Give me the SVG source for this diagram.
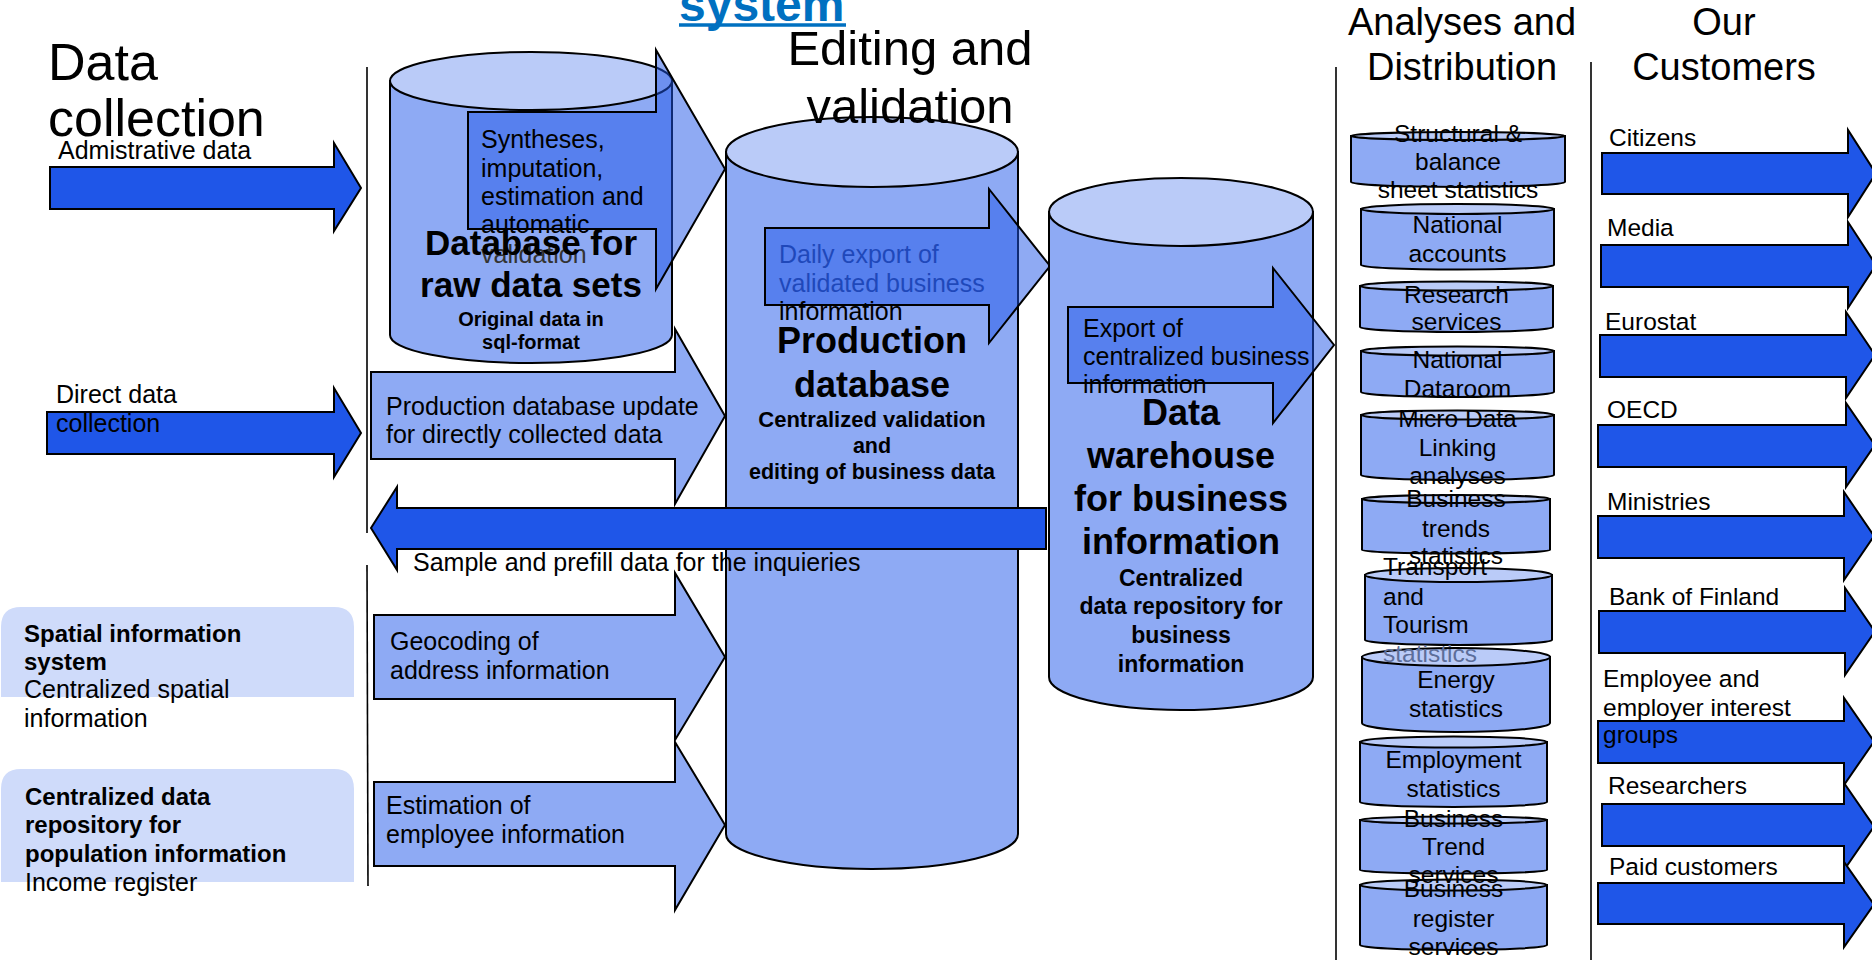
<svg xmlns="http://www.w3.org/2000/svg" width="1872" height="960" viewBox="0 0 1872 960">
<style>
.dk{fill:#1F56E8;stroke:#000;stroke-width:2}
.md{fill:#8EAAF4;stroke:#000;stroke-width:2}
.tr{fill:#1F56E8;fill-opacity:.5;stroke:#000;stroke-width:2}
.cb{fill:#8EAAF4;stroke:#000;stroke-width:2}
.ct{fill:#BACBF8;stroke:#000;stroke-width:2}
.box{fill:#CFDBFA}
.vl{stroke:#000;stroke-width:1.6;fill:none}
.t{font-family:"Liberation Sans",Arial,sans-serif;font-size:25px;fill:#000}
.r{font-size:24.5px}
.b{font-weight:bold}
.bx{font-size:24px}
.c{text-anchor:middle}
.h{font-size:49px}
.h2{font-size:38px}
.big{font-size:35px;font-weight:bold}
.sub{font-size:21.5px;font-weight:bold}
</style>
<rect width="1872" height="960" fill="#fff"/>

<g id="dividers">
<line class="vl" x1="367" y1="67" x2="367" y2="533"/>
<line class="vl" x1="367" y1="565" x2="368" y2="886"/>
<line class="vl" x1="1336" y1="67" x2="1336" y2="960"/>
<line class="vl" x1="1591" y1="62" x2="1591" y2="960"/>
</g>

<g id="title">
<text class="t b" x="679" y="21" style="font-size:48px;fill:#0070C0">system</text>
<line x1="679" y1="25" x2="846" y2="25" stroke="#0070C0" stroke-width="3.5"/>
</g>

<g id="spatial-box">
<path class="box" d="M1,697 V627 Q1,607 21,607 H334 Q354,607 354,627 V697 Z"/>
<text class="t b bx" x="24" y="642">Spatial information</text>
<text class="t b bx" x="24" y="670">system</text>
<text class="t" x="24" y="698">Centralized spatial</text>
<text class="t" x="24" y="727">information</text>
</g>

<g id="population-box">
<path class="box" d="M1,882 V789 Q1,769 21,769 H334 Q354,769 354,789 V882 Z"/>
<text class="t b bx" x="25" y="805">Centralized data</text>
<text class="t b bx" x="25" y="833">repository for</text>
<text class="t b bx" x="25" y="862">population information</text>
<text class="t" x="25" y="891">Income register</text>
</g>

<g id="connectors">
<path class="dk" d="M50,167 H334 V143 L361,188 L334,231 V209 H50 Z"/>
<path class="dk" d="M47,412 H334 V388 L361,433 L334,477 V454 H47 Z"/>
<path class="md" d="M371,372 H675 V329 L725,416 L675,504 V459 H371 Z"/>
<path class="md" d="M374,615 H675 V573 L725,657 L675,740 V699 H374 Z"/>
<path class="md" d="M374,782 H675 V742 L725,825 L675,910 V866 H374 Z"/>
<path class="dk" d="M1602,153 H1848 V130 L1876,173.5 L1848,217 V194 H1602 Z"/>
<path class="dk" d="M1601,245 H1848 V222 L1876,265 L1848,308 V287 H1601 Z"/>
<path class="dk" d="M1600,335 H1846 V312 L1875,355 L1846,398 V377 H1600 Z"/>
<path class="dk" d="M1598,425 H1846 V403 L1875,445 L1846,487 V467 H1598 Z"/>
<path class="dk" d="M1598,516 H1844 V492 L1874,536 L1844,580 V558 H1598 Z"/>
<path class="dk" d="M1599,611 H1845 V588 L1875,631.5 L1845,675 V653 H1599 Z"/>
<path class="dk" d="M1598,721 H1844 V698 L1874,741.5 L1844,785 V763 H1598 Z"/>
<path class="dk" d="M1602,804 H1844 V783 L1874,826.5 L1844,870 V846 H1602 Z"/>
<path class="dk" d="M1598,883 H1844 V862 L1874,904.5 L1844,947 V924 H1598 Z"/>
</g>

<g id="arrow-labels">
<text class="t" x="58" y="159">Admistrative data</text>
<text class="t" x="56" y="403">Direct data</text>
<text class="t" x="56" y="432">collection</text>
<text class="t" x="386" y="415">Production database update</text>
<text class="t" x="386" y="443">for directly collected data</text>
<text class="t" x="390" y="650">Geocoding of</text>
<text class="t" x="390" y="679">address information</text>
<text class="t" x="386" y="814">Estimation of</text>
<text class="t" x="386" y="843">employee information</text>
</g>

<g id="raw-database">
<path class="cb" d="M390,81 V335 A141,28 0 0 0 672,335 V81 Z"/>
<ellipse class="ct" cx="531" cy="81" rx="141" ry="29"/>
<path class="tr" d="M468,112 H656 V50 L725,169 L656,289 V229 H468 Z"/>
<text class="t" x="481" y="148">Syntheses,</text>
<text class="t" x="481" y="177">imputation,</text>
<text class="t" x="481" y="205">estimation and</text>
<text class="t" x="481" y="233">automatic</text>
<text class="t" x="481" y="263" style="fill:#333">validation</text>
<text class="t c big" x="531" y="255">Database for</text>
<text class="t c big" x="531" y="297">raw data sets</text>
<text class="t c b" x="531" y="326" style="font-size:20px">Original data in</text>
<text class="t c b" x="531" y="349" style="font-size:20px">sql-format</text>
</g>

<g id="production-database">
<path class="cb" d="M726,152 V834 A146,35 0 0 0 1018,834 V152 Z"/>
<ellipse class="ct" cx="872" cy="152" rx="146" ry="35"/>
<text class="t" x="779" y="263" style="fill:#1F3A8C">Daily export of</text>
<text class="t" x="779" y="292" style="fill:#1F3A8C">validated business</text>
<path class="tr" d="M765,228 H989 V189 L1050,266 L989,343 V305 H765 Z"/>
<text class="t" x="779" y="320">information</text>
<text class="t c big" x="872" y="353" style="font-size:36px">Production</text>
<text class="t c big" x="872" y="397" style="font-size:36px">database</text>
<text class="t c sub" x="872" y="427" style="font-size:22px">Centralized validation</text>
<text class="t c sub" x="872" y="453">and</text>
<text class="t c sub" x="872" y="479">editing of business data</text>
</g>

<g id="sample-arrow">
<path class="dk" d="M1046,508 H397 V487 L371,528 L397,570 V549 H1046 Z"/>
<text class="t" x="413" y="571">Sample and prefill data for the inquieries</text>
</g>

<g id="data-warehouse">
<path class="cb" d="M1049,212 V677 A132,33 0 0 0 1313,677 V212 Z"/>
<ellipse class="ct" cx="1181" cy="212" rx="132" ry="34"/>
<path class="tr" d="M1068,307 H1273 V268 L1334,345 L1273,423 V383 H1068 Z"/>
<text class="t" x="1083" y="337">Export of</text>
<text class="t" x="1083" y="365">centralized business</text>
<text class="t" x="1083" y="393">information</text>
<text class="t c big" x="1181" y="425" style="font-size:36px">Data</text>
<text class="t c big" x="1181" y="468" style="font-size:36px">warehouse</text>
<text class="t c big" x="1181" y="511" style="font-size:36px">for business</text>
<text class="t c big" x="1181" y="554" style="font-size:36px">information</text>
<text class="t c sub" x="1181" y="586" style="font-size:23px">Centralized</text>
<text class="t c sub" x="1181" y="614" style="font-size:23px">data repository for</text>
<text class="t c sub" x="1181" y="643" style="font-size:23px">business</text>
<text class="t c sub" x="1181" y="672" style="font-size:23px">information</text>
</g>

<g id="structural">
<path class="cb" d="M1351,136 V182 A107,5 0 0 0 1565,182 V136 Z"/>
<ellipse class="ct" cx="1458" cy="136" rx="107" ry="4"/>
</g>
<g id="national-accounts">
<path class="cb" d="M1361,209 V265 A96.5,4.5 0 0 0 1554,265 V209 Z"/>
<ellipse class="ct" cx="1457.5" cy="209" rx="96.5" ry="5"/>
</g>
<g id="research">
<path class="cb" d="M1360,286 V327 A96.5,5 0 0 0 1553,327 V286 Z"/>
<ellipse class="ct" cx="1456.5" cy="286" rx="96.5" ry="4.5"/>
</g>
<g id="dataroom">
<path class="cb" d="M1361,351 V392 A96.5,5 0 0 0 1554,392 V351 Z"/>
<ellipse class="ct" cx="1457.5" cy="351" rx="96.5" ry="4.5"/>
</g>
<g id="microdata">
<path class="cb" d="M1361,415 V475 A96.5,5 0 0 0 1554,475 V415 Z"/>
<ellipse class="ct" cx="1457.5" cy="415" rx="96.5" ry="4.5"/>
</g>
<g id="business-trends">
<path class="cb" d="M1362,499 V550 A94,3.5 0 0 0 1550,550 V499 Z"/>
<ellipse class="ct" cx="1456" cy="499" rx="94" ry="4"/>
</g>
<g id="transport">
<path class="cb" d="M1365,575 V640 A93.5,5 0 0 0 1552,640 V575 Z"/>
<ellipse class="ct" cx="1458.5" cy="575" rx="93.5" ry="7"/>
</g>
<g id="energy">
<path class="cb" d="M1362,657 V723 A94,9 0 0 0 1550,723 V657 Z"/>
<ellipse class="ct" cx="1456" cy="657" rx="94" ry="9"/>
</g>
<g id="employment">
<path class="cb" d="M1360,742 V802 A93.5,5 0 0 0 1547,802 V742 Z"/>
<ellipse class="ct" cx="1453.5" cy="742" rx="93.5" ry="5.5"/>
</g>
<g id="business-trend-services">
<path class="cb" d="M1360,820 V870 A93.5,3.5 0 0 0 1547,870 V820 Z"/>
<ellipse class="ct" cx="1453.5" cy="820" rx="93.5" ry="3.5"/>
</g>
<g id="business-register">
<path class="cb" d="M1360,885 V945 A93.5,5 0 0 0 1547,945 V885 Z"/>
<ellipse class="ct" cx="1453.5" cy="885" rx="93.5" ry="5.5"/>
</g>

<g id="distribution-labels">
<text class="t c r" x="1458" y="142">Structural &amp;</text>
<text class="t c r" x="1458" y="170">balance</text>
<text class="t c r" x="1458" y="198">sheet statistics</text>
<text class="t c r" x="1457.5" y="233">National</text>
<text class="t c r" x="1457.5" y="262">accounts</text>
<text class="t c r" x="1456.5" y="303">Research</text>
<text class="t c r" x="1456.5" y="330">services</text>
<text class="t c r" x="1457.5" y="368">National</text>
<text class="t c r" x="1457.5" y="397">Dataroom</text>
<text class="t c r" x="1457.5" y="427">Micro Data</text>
<text class="t c r" x="1457.5" y="456">Linking</text>
<text class="t c r" x="1457.5" y="484">analyses</text>
<text class="t c r" x="1456" y="507">Business</text>
<text class="t c r" x="1456" y="537">trends</text>
<text class="t c r" x="1456" y="564">statistics</text>
<text class="t r" x="1383" y="575">Transport</text>
<text class="t r" x="1383" y="605">and</text>
<text class="t r" x="1383" y="633">Tourism</text>
<text class="t r" x="1383" y="662" style="fill:#5D6E9A">statistics</text>
<text class="t c r" x="1456" y="688">Energy</text>
<text class="t c r" x="1456" y="717">statistics</text>
<text class="t c r" x="1453.5" y="768">Employment</text>
<text class="t c r" x="1453.5" y="797">statistics</text>
<text class="t c r" x="1453.5" y="827">Business</text>
<text class="t c r" x="1453.5" y="855">Trend</text>
<text class="t c r" x="1453.5" y="883">services</text>
<text class="t c r" x="1453.5" y="897">Business</text>
<text class="t c r" x="1453.5" y="927">register</text>
<text class="t c r" x="1453.5" y="955">services</text>
</g>

<g id="customer-labels">
<text class="t r" x="1609" y="146">Citizens</text>
<text class="t r" x="1607" y="236">Media</text>
<text class="t r" x="1605" y="330">Eurostat</text>
<text class="t r" x="1607" y="418">OECD</text>
<text class="t r" x="1607" y="510">Ministries</text>
<text class="t r" x="1609" y="605">Bank of Finland</text>
<text class="t r" x="1603" y="687">Employee and</text>
<text class="t r" x="1603" y="716">employer interest</text>
<text class="t r" x="1603" y="743">groups</text>
<text class="t r" x="1608" y="794">Researchers</text>
<text class="t r" x="1609" y="875">Paid customers</text>
</g>

<g id="headings">
<text class="t h" x="48" y="80" style="font-size:52px">Data</text>
<text class="t h" x="48" y="136" style="font-size:52px">collection</text>
<text class="t h c" x="910" y="65">Editing and</text>
<text class="t h c" x="910" y="123">validation</text>
<text class="t h2 c" x="1462" y="35">Analyses and</text>
<text class="t h2 c" x="1462" y="80">Distribution</text>
<text class="t h2 c" x="1724" y="35">Our</text>
<text class="t h2 c" x="1724" y="80">Customers</text>
</g>
</svg>
